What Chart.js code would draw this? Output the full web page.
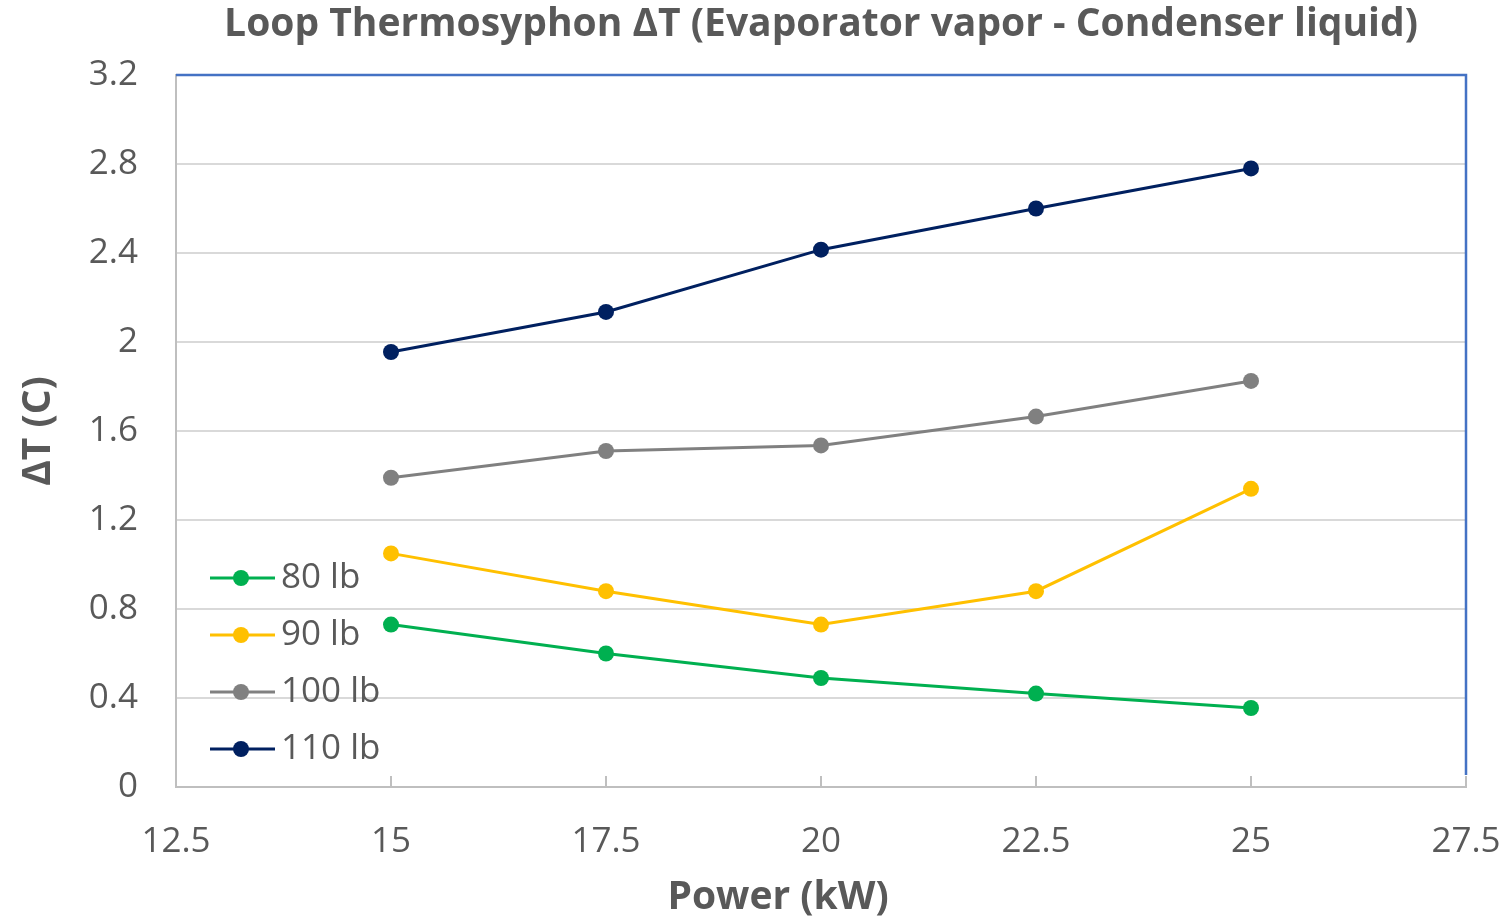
<!DOCTYPE html>
<html>
<head>
<meta charset="utf-8">
<script src="https://cdn.jsdelivr.net/npm/chart.js@4.4.1/dist/chart.umd.min.js"></script>
<style>
  html, body { margin: 0; padding: 0; background: #fff; }
  #wrap { width: 1506px; height: 920px; }
</style>
</head>
<body>
<div id="wrap"><canvas id="myChart" width="1506" height="920"></canvas></div>
<script>
// power levels (kW)
const power = [15, 17.5, 20, 22.5, 25];

// delta T (C) per charge
const dt80 = [0.73, 0.60, 0.49, 0.42, 0.355];
const dt90 = [1.05, 0.88, 0.73, 0.88, 1.34];
const dt100 = [1.39, 1.51, 1.535, 1.665, 1.825];
const dt110 = [1.955, 2.135, 2.415, 2.60, 2.78];

const seriesNames = ['80 lb', '90 lb', '100 lb', '110 lb'];
const seriesColors = ['#00B050', '#FFC000', '#808080', '#002060'];

const chartTitle = 'Loop Thermosyphon ΔT (Evaporator vapor - Condenser liquid)';
const xTitle = 'Power (kW)';
const textGrey = '#595959';
const fontName = '"Open Sans", "DejaVu Sans", sans-serif';

function toPoints(vals) {
  return vals.map((v, i) => ({ x: power[i], y: v }));
}

// chart title over the plot area, x axis title a bit left of centre (as in the Excel file)
const titles = {
  id: 'titles',
  afterDraw(chart) {
    const ctx = chart.ctx;
    const a = chart.chartArea;
    ctx.save();
    ctx.fillStyle = textGrey;
    ctx.textAlign = 'center';
    ctx.textBaseline = 'middle';
    ctx.font = 'bold 39px ' + fontName;
    ctx.fillText(chartTitle, (a.left + a.right) / 2, 25);
    ctx.fillText(xTitle, a.left + 602, a.bottom + 111);
    ctx.restore();
  }
};

// legend drawn inside the plot, bottom-left
const insideLegend = {
  id: 'insideLegend',
  afterDraw(chart) {
    const ctx = chart.ctx;
    const area = chart.chartArea;
    const x0 = area.left + 34;
    let y = area.bottom - 209;
    ctx.save();
    chart.data.datasets.forEach(ds => {
      ctx.strokeStyle = ds.borderColor;
      ctx.lineWidth = 3;
      ctx.beginPath();
      ctx.moveTo(x0, y);
      ctx.lineTo(x0 + 65, y);
      ctx.stroke();
      ctx.fillStyle = ds.borderColor;
      ctx.beginPath();
      ctx.arc(x0 + 31, y, 8, 0, Math.PI * 2);
      ctx.fill();
      ctx.fillStyle = textGrey;
      ctx.font = '35px ' + fontName;
      ctx.textBaseline = 'middle';
      ctx.textAlign = 'left';
      ctx.fillText(ds.label, x0 + 71, y);
      y += 57;
    });
    ctx.restore();
  }
};

// blue top / right edge of the plot area
const plotBorder = {
  id: 'plotBorder',
  afterDraw(chart) {
    const ctx = chart.ctx;
    const a = chart.chartArea;
    ctx.save();
    ctx.strokeStyle = '#4472C4';
    ctx.lineWidth = 2.5;
    ctx.beginPath();
    ctx.moveTo(a.left, a.top);
    ctx.lineTo(a.right, a.top);
    ctx.lineTo(a.right, a.bottom - 12);
    ctx.stroke();
    ctx.restore();
  }
};

const ctx = document.getElementById('myChart').getContext('2d');
const myChart = new Chart(ctx, {
  type: 'line',
  data: {
    datasets: [
      { label: seriesNames[0], data: toPoints(dt80), borderColor: seriesColors[0] },
      { label: seriesNames[1], data: toPoints(dt90), borderColor: seriesColors[1] },
      { label: seriesNames[2], data: toPoints(dt100), borderColor: seriesColors[2] },
      { label: seriesNames[3], data: toPoints(dt110), borderColor: seriesColors[3] }
    ].map(ds => Object.assign(ds, {
      backgroundColor: ds.borderColor,
      borderWidth: 3,
      pointRadius: 8,
      pointBorderWidth: 0,
      pointBackgroundColor: ds.borderColor,
      fill: false,
      tension: 0
    }))
  },
  options: {
    responsive: false,
    animation: false,
    devicePixelRatio: 1,
    layout: { padding: { left: 0, right: 40, top: 75, bottom: 0 } },
    plugins: {
      legend: { display: false },
      tooltip: { enabled: false },
      title: { display: false }
    },
    scales: {
      x: {
        type: 'linear',
        min: 12.5,
        max: 27.5,
        ticks: {
          stepSize: 2.5,
          color: textGrey,
          font: { family: fontName, size: 35 },
          padding: 45
        },
        grid: {
          drawOnChartArea: false,
          drawTicks: true,
          tickLength: -11,
          color: '#BFBFBF',
          lineWidth: 2
        },
        border: { color: '#BFBFBF', width: 2 },
        title: { display: false },
        afterFit(scale) {
          scale.height = 133;
          scale.paddingLeft = 0;
          scale.paddingRight = 0;
        }
      },
      y: {
        min: 0,
        max: 3.2,
        ticks: {
          stepSize: 0.4,
          color: textGrey,
          font: { family: fontName, size: 35 },
          padding: 38,
          callback: v => String(+v.toFixed(1))
        },
        grid: { color: '#D9D9D9', lineWidth: 2, drawTicks: false },
        border: { color: '#BFBFBF', width: 2 },
        title: {
          display: true,
          text: 'ΔT (C)',
          color: textGrey,
          font: { family: fontName, size: 39, weight: 'bold' },
          padding: { top: 15, bottom: 0 }
        },
        afterFit(scale) { scale.width = 176; }
      }
    }
  },
  plugins: [titles, insideLegend, plotBorder]
});
</script>
</body>
</html>
